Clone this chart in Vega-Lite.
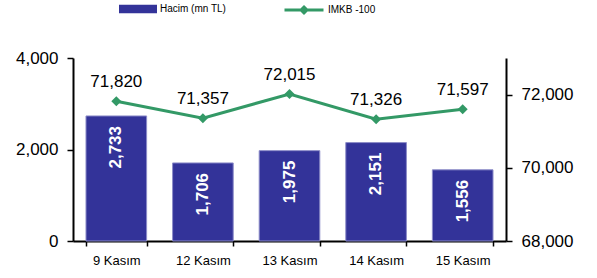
{
  "$schema": "https://vega.github.io/schema/vega-lite/v6.json",
  "width": 433,
  "height": 183,
  "autosize": "none",
  "padding": {"left": 73, "top": 58, "right": 91, "bottom": 37},
  "background": "white",
  "config": {
    "view": {"stroke": null},
    "font": "Liberation Sans",
    "axis": {
      "grid": false,
      "domainColor": "black",
      "domainWidth": 2,
      "tickColor": "black",
      "tickWidth": 1.5,
      "labelColor": "black",
      "titleColor": "black"
    },
    "legend": {"padding": 0, "labelFontSize": 10, "labelColor": "black", "labelOffset": 3}
  },
  "data": {
    "values": [
      {"date": "9 Kasım", "hacim": 2733, "imkb": 71820},
      {"date": "12 Kasım", "hacim": 1706, "imkb": 71357},
      {"date": "13 Kasım", "hacim": 1975, "imkb": 72015},
      {"date": "14 Kasım", "hacim": 2151, "imkb": 71326},
      {"date": "15 Kasım", "hacim": 1556, "imkb": 71597}
    ]
  },
  "encoding": {
    "x": {
      "field": "date",
      "type": "nominal",
      "sort": null,
      "scale": {"paddingInner": 0.3, "paddingOuter": 0.15},
      "axis": {"title": null, "labelAngle": 0, "labelFontSize": 13, "tickBand": "extent", "tickSize": 5, "labelPadding": 8}
    }
  },
  "layer": [
    {
      "layer": [
        {
          "mark": {"type": "bar", "stroke": "#8c8cc8", "strokeWidth": 1},
          "encoding": {
            "y": {
              "field": "hacim",
              "type": "quantitative",
              "scale": {"domain": [0, 4000]},
              "axis": {"title": null, "values": [0, 2000, 4000], "format": ",.0f", "labelFontSize": 17, "tickSize": 6, "labelPadding": 9}
            },
            "fill": {
              "datum": "Hacim (mn TL)",
              "type": "nominal",
              "scale": {"range": ["#333399"]},
              "legend": {
                "title": null,
                "orient": "none",
                "legendX": 46,
                "legendY": -68,
                "symbolType": "M-1,-0.22H1V0.22H-1Z",
                "symbolSize": 1444,
                "symbolStrokeWidth": 0
              }
            }
          }
        },
        {
          "mark": {"type": "text", "angle": 270, "align": "right", "baseline": "middle", "dx": -10, "color": "white", "fontWeight": "bold", "fontSize": 17},
          "encoding": {
            "y": {"field": "hacim", "type": "quantitative"},
            "text": {"field": "hacim", "type": "quantitative", "format": ",.0f"}
          }
        }
      ]
    },
    {
      "layer": [
        {
          "mark": {"type": "line", "strokeWidth": 3},
          "encoding": {
            "y": {
              "field": "imkb",
              "type": "quantitative",
              "scale": {"domain": [68000, 73000]},
              "axis": {"title": null, "orient": "right", "values": [68000, 70000, 72000], "format": ",.0f", "labelFontSize": 17, "tickSize": 6, "labelPadding": 9}
            },
            "stroke": {
              "datum": "IMKB -100",
              "type": "nominal",
              "scale": {"range": ["#339966"]},
              "legend": {
                "title": null,
                "orient": "none",
                "legendX": 210,
                "legendY": -69,
                "symbolType": "M-1,0H1M0,-0.15L0.15,0L0,0.15L-0.15,0Z",
                "symbolSize": 1521,
                "symbolStrokeWidth": 3,
                "encode": {"symbols": {"update": {"fill": {"value": "#339966"}}}}
              }
            }
          }
        },
        {
          "mark": {"type": "point", "shape": "diamond", "filled": true, "opacity": 1, "color": "#339966", "size": 100},
          "encoding": {"y": {"field": "imkb", "type": "quantitative"}}
        },
        {
          "mark": {"type": "text", "baseline": "bottom", "dy": -10, "fontSize": 17, "color": "black"},
          "encoding": {
            "y": {"field": "imkb", "type": "quantitative"},
            "text": {"field": "imkb", "type": "quantitative", "format": ",.0f"}
          }
        }
      ]
    }
  ],
  "resolve": {"scale": {"y": "independent"}}
}
